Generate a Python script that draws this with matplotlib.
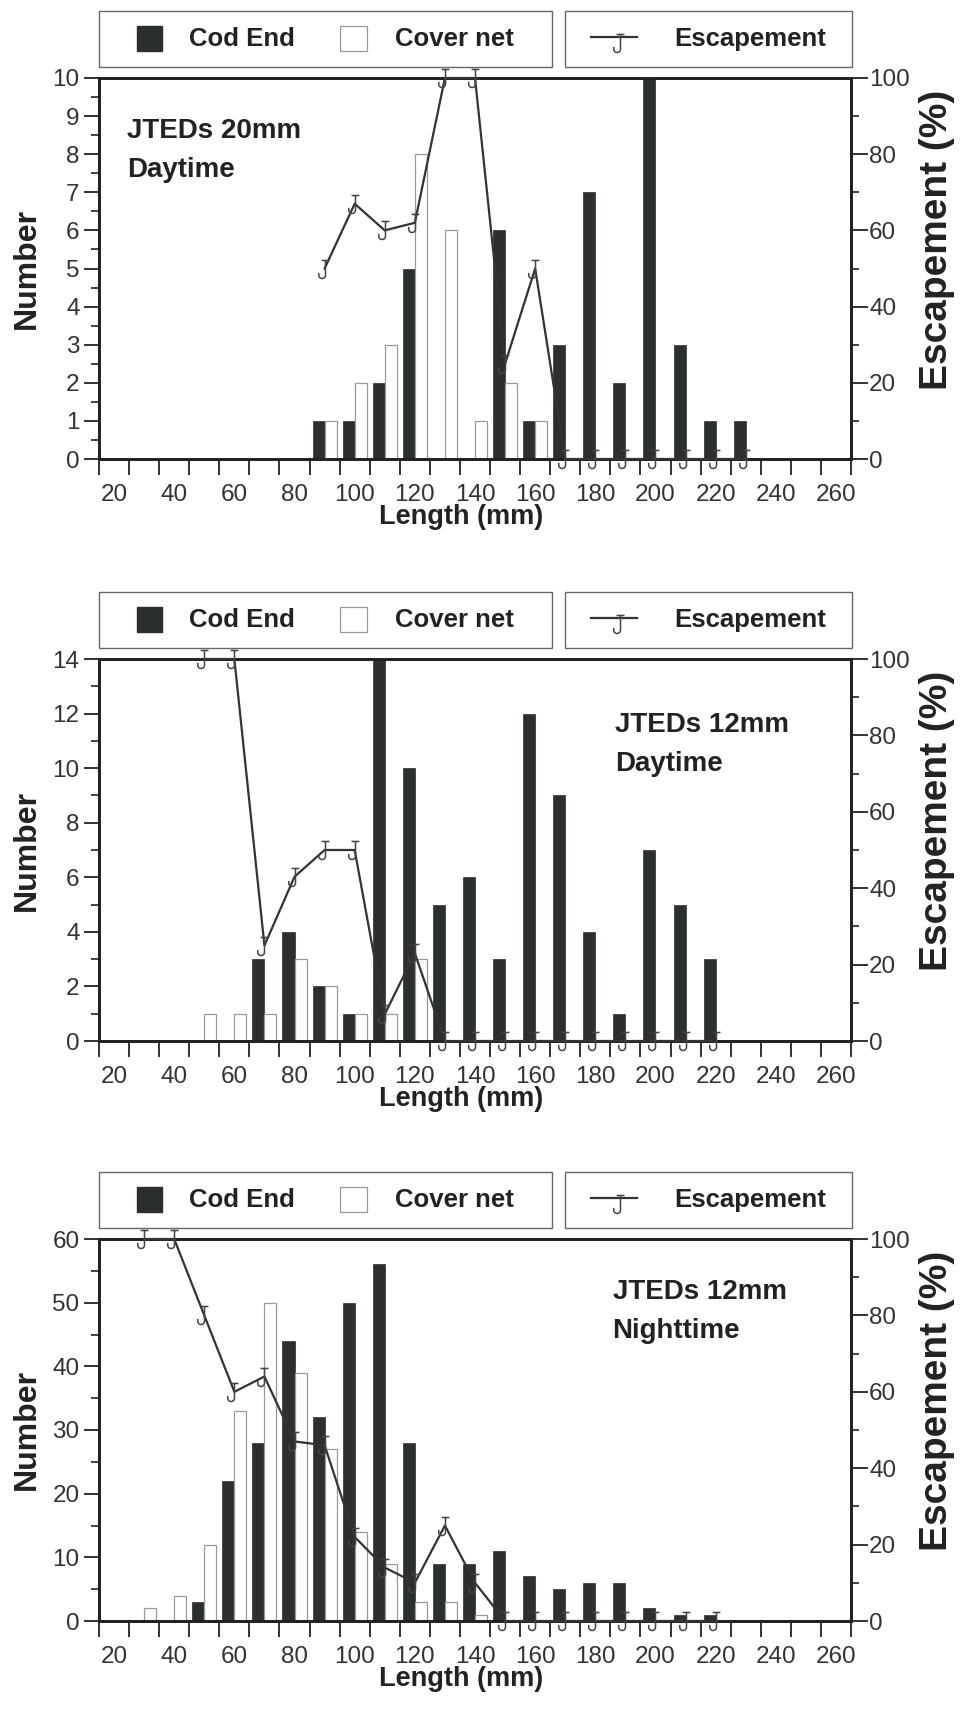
import numpy as np
import matplotlib
matplotlib.use('Agg')
import matplotlib.pyplot as plt
from matplotlib.path import Path
from matplotlib.patches import Rectangle
from matplotlib.lines import Line2D
from matplotlib.ticker import MultipleLocator

plt.rcParams['font.family'] = ['Liberation Sans', 'DejaVu Sans']

# length classes (mm), bin centres 20..260
lengths = [20, 30, 40, 50, 60, 70, 80, 90, 100, 110, 120, 130, 140,
           150, 160, 170, 180, 190, 200, 210, 220, 230, 240, 250, 260]

# JTEDs 20mm daytime
cod_20d = [0, 0, 0, 0, 0, 0, 0, 1, 1, 2, 5, 0, 0, 6, 1, 3, 7, 2, 10, 3, 1, 1, 0, 0, 0]
cov_20d = [0, 0, 0, 0, 0, 0, 0, 1, 2, 3, 8, 6, 1, 2, 1, 0, 0, 0, 0, 0, 0, 0, 0, 0, 0]
esc_len_20d = [90, 100, 110, 120, 130, 140, 150, 160, 170, 180, 190, 200, 210, 220, 230]
esc_20d = [50, 67, 60, 62, 100, 100, 25, 50, 0, 0, 0, 0, 0, 0, 0]

# JTEDs 12mm daytime
cod_12d = [0, 0, 0, 0, 0, 3, 4, 2, 1, 14, 10, 5, 6, 3, 12, 9, 4, 1, 7, 5, 3, 0, 0, 0, 0]
cov_12d = [0, 0, 0, 1, 1, 1, 3, 2, 1, 1, 3, 0, 0, 0, 0, 0, 0, 0, 0, 0, 0, 0, 0, 0, 0]
esc_len_12d = [50, 60, 70, 80, 90, 100, 110, 120, 130, 140, 150, 160, 170, 180,
               190, 200, 210, 220]
esc_12d = [100, 100, 25, 43, 50, 50, 7, 23, 0, 0, 0, 0, 0, 0, 0, 0, 0, 0]

# JTEDs 12mm nighttime
cod_12n = [0, 0, 0, 3, 22, 28, 44, 32, 50, 56, 28, 9, 9, 11, 7, 5, 6, 6, 2, 1, 1, 0, 0, 0, 0]
cov_12n = [0, 2, 4, 12, 33, 50, 39, 27, 14, 9, 3, 3, 1, 0, 0, 0, 0, 0, 0, 0, 0, 0, 0, 0, 0]
esc_len_12n = [30, 40, 50, 60, 70, 80, 90, 100, 110, 120, 130, 140, 150, 160,
               170, 180, 190, 200, 210, 220]
esc_12n = [100, 100, 80, 60, 64, 47, 46, 22, 14, 10, 25, 10, 0, 0, 0, 0, 0, 0, 0, 0]

panels = [
    (cod_20d, cov_20d, esc_len_20d, esc_20d, 10, 1, 0.5, 'JTEDs 20mm\nDaytime', (0.037, 0.895)),
    (cod_12d, cov_12d, esc_len_12d, esc_12d, 14, 2, 1, 'JTEDs 12mm\nDaytime', (0.686, 0.862)),
    (cod_12n, cov_12n, esc_len_12n, esc_12n, 60, 10, 5, 'JTEDs 12mm\nNighttime', (0.683, 0.895)),
]

DARK = '#2b302c'
TXT = '#333333'

# "J" marker: cap, stem, hook
t = np.linspace(0, np.pi, 14)
hook = list(zip(-0.3 + 0.3 * np.cos(t), -0.5 - 0.3 * np.sin(t)))
verts = [(-0.35, 0.8), (0.35, 0.8), (0, 0.8), (0, -0.5)] + hook + [(-0.6, -0.3)]
codes = [Path.MOVETO, Path.LINETO, Path.MOVETO, Path.LINETO] + [Path.LINETO] * len(hook) + [Path.LINETO]
jmark = Path(verts, codes)

fig = plt.figure(figsize=(9.6, 17.12), dpi=100)
W, H = 960.0, 1712.0
ax_left, ax_w = 99, 752
tops = [78, 659, 1239]
bots = [459, 1041, 1621]

for i, (cod, cov, elen, esc, ymax, ymaj, ymin, title, tpos) in enumerate(panels):
    top, bot = tops[i], bots[i]
    h = bot - top
    ax = fig.add_axes([ax_left / W, 1 - bot / H, ax_w / W, h / H])
    x = np.array(lengths)
    ax.bar(x - 2, cod, width=4, color=DARK, edgecolor=DARK, linewidth=0.5, zorder=2)
    ax.bar(x + 2, cov, width=4, color='white', edgecolor='#999999', linewidth=0.9, zorder=2)
    ax.set_xlim(15, 265)
    ax.set_ylim(0, ymax)

    ax.set_xticks(np.arange(15, 266, 10))
    ax.set_xticklabels([])
    ax.set_xticks(np.arange(20, 261, 20), [str(v) for v in range(20, 261, 20)], minor=True)
    ax.tick_params(axis='x', which='major', direction='out', length=11.5, width=1.3, color='#222')
    ax.tick_params(axis='x', which='minor', length=0, pad=18, labelsize=17.5, labelcolor=TXT)
    ax.yaxis.set_major_locator(MultipleLocator(ymaj))
    ax.yaxis.set_minor_locator(MultipleLocator(ymin))
    ax.tick_params(axis='y', which='major', direction='out', length=11, width=1.3,
                   color='#222', labelsize=17.5, labelcolor=TXT, pad=3)
    ax.tick_params(axis='y', which='minor', direction='out', length=6, width=1.2, color='#222')
    for s in ax.spines.values():
        s.set_linewidth(2)
        s.set_color('#222')

    ax2 = ax.twinx()
    ax2.set_ylim(0, 100)
    ax2.yaxis.set_major_locator(MultipleLocator(20))
    ax2.yaxis.set_minor_locator(MultipleLocator(10))
    ax2.tick_params(axis='y', which='major', direction='out', length=12, width=1.3,
                    color='#222', labelsize=17.5, labelcolor=TXT, pad=1)
    ax2.tick_params(axis='y', which='minor', direction='out', length=6, width=1.2, color='#222')
    for s in ax2.spines.values():
        s.set_linewidth(2)
        s.set_color('#222')
    ax2.plot(elen, esc, color='#333333', linewidth=1.6, marker=jmark, markersize=13,
             markerfacecolor='none', markeredgecolor='#444', markeredgewidth=1.1,
             clip_on=False, zorder=3)

    ax.set_xlabel('Length (mm)', fontsize=19.5, fontweight='bold', color='#222')
    ax.xaxis.set_label_coords(0.481, -0.152)
    ax.xaxis.label.set_va('center')
    ax.set_ylabel('Number', fontsize=23, fontweight='bold', color='#222')
    ax.yaxis.set_label_coords(-0.0957, 0.5)
    ax.yaxis.label.set_va('center')
    ax2.set_ylabel('Escapement (%)', fontsize=28, fontweight='bold', color='#222')
    ax2.yaxis.set_label_coords(1.114, 0.575)
    ax2.yaxis.label.set_va('center')

    ax.text(tpos[0], tpos[1], title, transform=ax.transAxes, ha='left', va='top',
            fontsize=20, fontweight='bold', color='#222', linespacing=1.65)

    # legend boxes above the plot
    tr = ax.transAxes
    fx = lambda px: px / ax_w
    fy = lambda px: 1 + px / h
    ax.add_patch(Rectangle((0, fy(11)), fx(453), 56 / h, transform=tr, fill=False,
                           ec='#666', lw=1.0, clip_on=False))
    ax.add_patch(Rectangle((fx(466), fy(11)), fx(287), 56 / h, transform=tr, fill=False,
                           ec='#666', lw=1.0, clip_on=False))
    ax.add_patch(Rectangle((fx(38), fy(27)), fx(25), 25 / h, transform=tr, color=DARK,
                           clip_on=False))
    ax.add_patch(Rectangle((fx(241), fy(27)), fx(27), 25 / h, transform=tr, fc='white',
                           ec='#999', lw=0.9, clip_on=False))
    ax.text(fx(90), fy(39), 'Cod End', transform=tr, ha='left', va='center',
            fontsize=18.5, fontweight='bold', color='#222')
    ax.text(fx(296), fy(39), 'Cover net', transform=tr, ha='left', va='center',
            fontsize=18.5, fontweight='bold', color='#222')
    ax.add_line(Line2D([fx(492), fx(538)], [fy(41), fy(41)], transform=tr, color='#333333',
                       lw=1.6, clip_on=False))
    ax.add_line(Line2D([fx(521)], [fy(35)], transform=tr, marker=jmark, markersize=13,
                       mfc='none', mec='#444', mew=1.1, linestyle='none', clip_on=False))
    ax.text(fx(575), fy(39), 'Escapement', transform=tr, ha='left', va='center',
            fontsize=18.5, fontweight='bold', color='#222')

fig.savefig('out.png', dpi=100)
